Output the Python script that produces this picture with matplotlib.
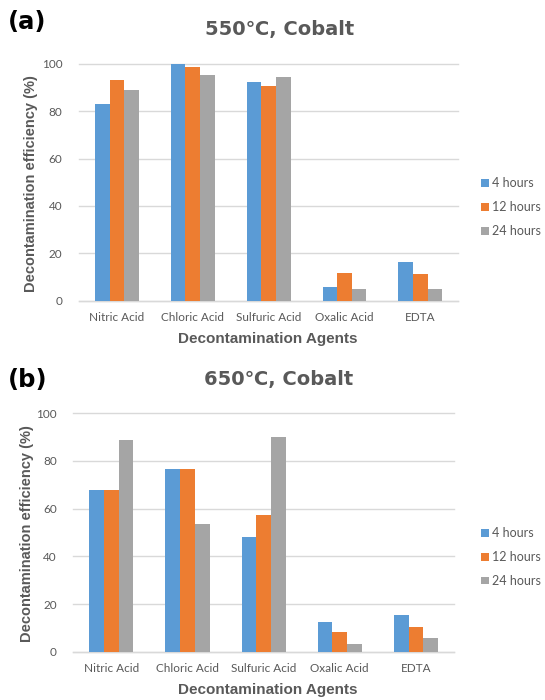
import matplotlib
matplotlib.use("Agg")
import matplotlib.pyplot as plt
from matplotlib.patches import Patch
import numpy as np

categories = ["Nitric Acid", "Chloric Acid", "Sulfuric Acid", "Oxalic Acid", "EDTA"]
series_names = ["4 hours", "12 hours", "24 hours"]
colors = ["#5B9BD5", "#ED7D31", "#A5A5A5"]

a_4h = [82.9, 100.0, 92.5, 5.9, 16.2]
a_12h = [93.3, 98.7, 90.8, 11.7, 11.0]
a_24h = [89.2, 95.3, 94.6, 4.8, 4.8]

b_4h = [67.9, 76.5, 48.0, 12.6, 15.5]
b_12h = [67.9, 76.5, 57.2, 8.1, 10.2]
b_24h = [88.6, 53.6, 90.1, 3.2, 5.7]

yticks = [0, 20, 40, 60, 80, 100]

TXT = "#595959"
GRID = "#D9D9D9"
tick_font = "Lato"
bold_font = ["DejaVu Sans"]

fig = plt.figure(figsize=(5.45, 7.0), dpi=100)


def draw_panel(rect, data, label, title, label_y, title_x, title_y,
               ylabel_x, xlabel_y, legend_y):
    ax = fig.add_axes(rect)
    x = np.arange(len(categories))
    w = 0.193
    for i, (vals, c) in enumerate(zip(data, colors)):
        ax.bar(x + (i - 1) * w, vals, width=w, color=c, zorder=3, linewidth=0)
    ax.set_xlim(-0.5, len(categories) - 0.5)
    ax.set_ylim(0, 100)
    ax.set_yticks(yticks)
    ax.set_xticks(x)
    ax.set_xticklabels(categories, family=tick_font, fontsize=8.5, color=TXT)
    for t in ax.get_yticklabels():
        t.set_family(tick_font)
        t.set_fontsize(8.5)
        t.set_color(TXT)
    ax.tick_params(axis="both", length=0, pad=8)
    ax.tick_params(axis="y", pad=12)
    for s in ["top", "right", "left"]:
        ax.spines[s].set_visible(False)
    ax.spines["bottom"].set_color(GRID)
    ax.spines["bottom"].set_linewidth(1.0)
    ax.yaxis.grid(True, color=GRID, linewidth=1.0, zorder=0)
    ax.set_axisbelow(True)
    for gl in ax.yaxis.get_gridlines():
        gl.set_clip_on(False)
    fig.text(8 / 545, 1 - label_y / 700, label, fontsize=17.5, fontweight="bold",
             family=bold_font, color="black", ha="left", va="center")
    fig.text(title_x / 545, 1 - title_y / 700, title, fontsize=14,
             fontweight="heavy", family=bold_font, color=TXT,
             ha="center", va="center")
    fig.text(ylabel_x / 545, rect[1] + rect[3] / 2 - 0.002,
             "Decontamination efficiency (%)", rotation=90, fontsize=10.5,
             fontweight="bold", family=["Liberation Sans"], color=TXT,
             ha="center", va="center")
    fig.text(268 / 545, 1 - xlabel_y / 700, "Decontamination Agents",
             fontsize=11, fontweight="bold", family=["Liberation Sans"],
             color=TXT, ha="center", va="center")
    handles = [Patch(facecolor=c, edgecolor="none") for c in colors]
    fig.legend(handles, series_names, loc="center left",
               bbox_to_anchor=(481 / 545, 1 - legend_y / 700),
               frameon=False, borderpad=0, borderaxespad=0,
               handlelength=0.6, handleheight=0.6, handletextpad=0.3,
               labelspacing=0.95,
               prop={"family": tick_font, "size": 9}, labelcolor=TXT)
    return ax


draw_panel([79 / 545, 1 - 300.5 / 700, (458.3 - 79) / 545, (300.5 - 64) / 700],
           [a_4h, a_12h, a_24h], "(a)", "550\u2103, Cobalt",
           label_y=22, title_x=280, title_y=30, ylabel_x=31, xlabel_y=339,
           legend_y=207.3)
draw_panel([73.3 / 545, 1 - 651.7 / 700, (454 - 73.3) / 545, (651.7 - 413.3) / 700],
           [b_4h, b_12h, b_24h], "(b)", "650\u2103, Cobalt",
           label_y=380, title_x=279, title_y=379, ylabel_x=27, xlabel_y=690,
           legend_y=557)

fig.savefig("out.png", dpi=100)
